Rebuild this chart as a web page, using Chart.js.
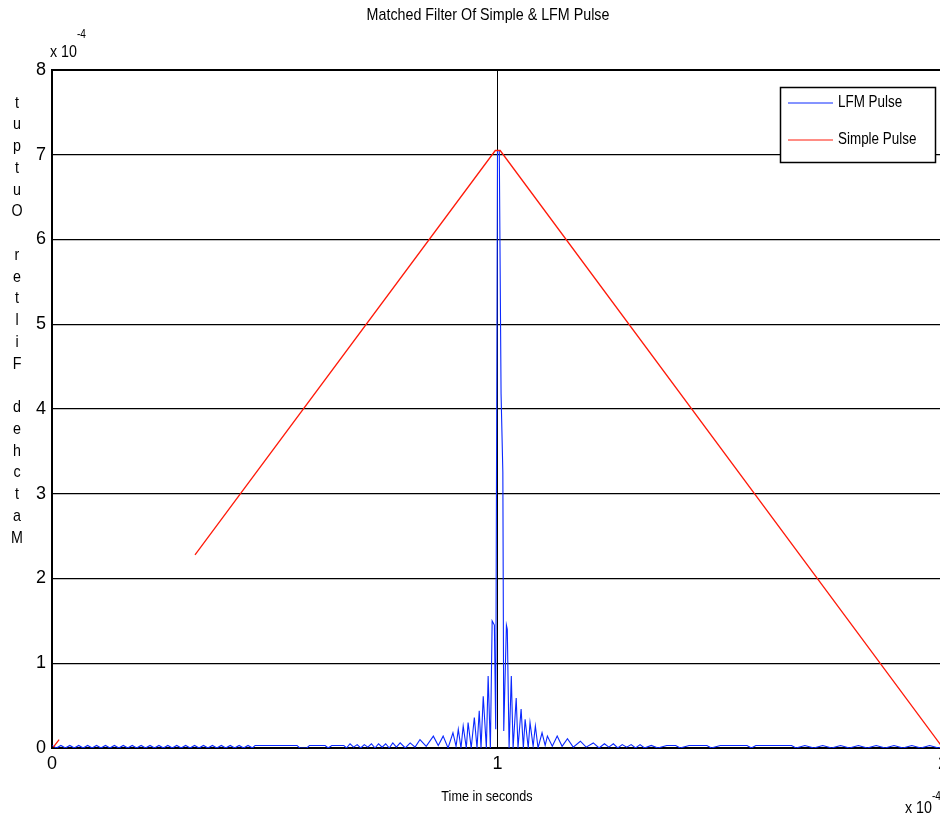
<!DOCTYPE html>
<html><head><meta charset="utf-8">
<script src="https://cdn.jsdelivr.net/npm/chart.js@4.4.1/dist/chart.umd.min.js"></script>
<style>
html,body{margin:0;padding:0;background:#fff;overflow:hidden;}
#wrap{width:940px;height:818px;overflow:hidden;position:relative;background:#fff;}
canvas{display:block;}
</style></head><body>
<div id="wrap"><canvas id="c" width="948" height="818"></canvas></div>
<script>
const chartTitle = "Matched Filter Of Simple & LFM Pulse";
const xAxisTitle = "Time in seconds";
const yAxisTitle = "Matched Filter Output";
const axisMultiplier = "x 10";
const axisExponent = "-4";
const seriesNames = ["LFM Pulse", "Simple Pulse"];
const seriesColors = ["#0a28ff", "#ff1a0a"];
const xTicks = [0, 1, 2];
const yTicks = [0, 1, 2, 3, 4, 5, 6, 7, 8];

const simpleTime  = [0.003, 0.016, 0.02, 0.321, 0.995, 1.006, 2.0];
const simpleValue = [0.01, 0.10, null, 2.28, 7.05, 7.05, 0.0];

const lfmTime = [
  0.00,0.01,0.02,0.03,0.04,0.05,0.06,0.07,0.08,0.09,0.10,0.11,0.12,0.13,0.14,0.15,0.16,0.17,0.18,0.19,0.20,0.21,0.22,
  0.23,0.24,0.25,0.26,0.27,0.28,0.29,0.30,0.31,0.32,0.33,0.34,0.35,0.36,0.37,0.38,0.39,0.40,0.41,0.42,0.43,0.44,
  0.450,0.456,0.550,0.556,0.572,0.578,0.613,0.620,0.628,0.655,0.661,0.669,0.677,0.685,0.693,0.701,0.709,0.717,0.725,
  0.733,0.741,0.749,0.757,0.765,0.773,0.7815,0.793,0.804,0.815,0.826,0.840,0.856,0.867,0.878,0.889,0.900,0.907,0.912,
  0.918,0.923,0.930,0.934,0.941,0.948,0.954,0.959,0.963,0.968,0.975,0.979,0.984,0.988,0.993,0.996,1.000,1.004,1.008,
  1.012,1.014,1.020,1.022,1.026,1.031,1.035,1.042,1.046,1.053,1.058,1.062,1.069,1.073,1.080,1.085,1.091,1.100,1.107,
  1.112,1.123,1.134,1.145,1.157,1.170,1.186,1.199,1.215,1.228,1.240,1.250,1.260,1.270,1.280,1.290,1.300,1.310,1.320,
  1.330,1.345,1.360,1.380,1.400,1.410,1.430,1.470,1.480,1.500,1.560,1.570,1.580,1.660,1.670,1.690,1.710,1.730,1.750,
  1.770,1.790,1.810,1.830,1.850,1.870,1.890,1.910,1.930,1.950,1.970,1.990,2.000
];
const lfmValue = [
  0.03,0,0.03,0,0.03,0,0.03,0,0.03,0,0.03,0,0.03,0,0.03,0,0.03,0,0.03,0,0.03,0,0.03,
  0,0.03,0,0.03,0,0.03,0,0.03,0,0.03,0,0.03,0,0.03,0,0.03,0,0.03,0,0.03,0,0.03,
  0.00,0.03,0.03,0.00,0.00,0.03,0.03,0.00,0.03,0.03,0.00,0.05,0.01,0.04,0.00,0.04,0.01,0.05,0.00,
  0.05,0.01,0.05,0.00,0.06,0.01,0.06,0.00,0.06,0.01,0.10,0.02,0.14,0.03,0.14,0.00,0.18,0.02,0.22,
  0.00,0.26,0.00,0.30,0.00,0.36,0.00,0.44,0.00,0.61,0.00,0.85,0.00,1.50,1.45,0.22,7.05,7.05,4.18,
  3.25,0.20,1.45,1.40,0.00,0.85,0.00,0.59,0.00,0.46,0.00,0.34,0.00,0.30,0.02,0.26,0.00,0.18,0.03,
  0.14,0.02,0.14,0.02,0.11,0.01,0.08,0.01,0.06,0.00,0.05,0.01,0.05,0.00,0.04,0.01,0.04,0.00,0.04,
  0.00,0.03,0.00,0.03,0.03,0.00,0.03,0.03,0.00,0.03,0.03,0.00,0.03,0.03,0.00,0.03,0.00,0.03,0.00,
  0.03,0.00,0.03,0.00,0.03,0.00,0.03,0.00,0.03,0.00,0.03,0.00,0.02
];

const FF = "'Liberation Sans Narrow','Arial Narrow','Liberation Sans',Arial,sans-serif";
const NARROW = 0.84;
const toPts = (t, v) => t.map((x, i) => ({x: x, y: v[i]}));

function narrowText(ctx, text, x, y, size, align) {
  ctx.save();
  ctx.font = size + 'px ' + FF;
  ctx.textBaseline = 'middle';
  ctx.textAlign = align;
  ctx.translate(x, y);
  ctx.scale(NARROW, 1);
  ctx.fillText(text, 0, 0);
  ctx.restore();
}

const matlabText = {
  id: 'matlabText',
  afterDraw(chart) {
    const ctx = chart.ctx;
    ctx.save();
    ctx.fillStyle = '#000';
    narrowText(ctx, chartTitle, 488, 15, 17, 'center');
    narrowText(ctx, xAxisTitle, 487, 797, 15, 'center');
    const letters = yAxisTitle.split('').reverse();
    letters.forEach((ch, i) => { if (ch !== ' ') narrowText(ctx, ch, 17, 103 + i * 21.75, 17, 'center'); });
    narrowText(ctx, axisMultiplier, 50, 52, 17, 'left');
    narrowText(ctx, axisMultiplier, 905, 808, 17, 'left');
    narrowText(ctx, axisExponent, 77, 35, 12, 'left');
    narrowText(ctx, axisExponent, 932, 797, 12, 'left');
    // legend box
    const bx = 780.5, by = 87.5, bw = 155, bh = 75;
    ctx.fillStyle = '#fff';
    ctx.fillRect(bx, by, bw, bh);
    ctx.strokeStyle = '#000';
    ctx.lineWidth = 1.5;
    ctx.strokeRect(bx, by, bw, bh);
    const rows = [103, 140];
    chart.data.datasets.forEach((ds, i) => {
      ctx.strokeStyle = ds.borderColor;
      ctx.lineWidth = 1;
      ctx.beginPath();
      ctx.moveTo(788, rows[i]);
      ctx.lineTo(833, rows[i]);
      ctx.stroke();
      ctx.fillStyle = '#000';
      narrowText(ctx, ds.label, 838, rows[i], 16, 'left');
    });
    ctx.restore();
  }
};

new Chart(document.getElementById('c'), {
  type: 'line',
  data: {
    datasets: [
      { label: seriesNames[0], data: toPts(lfmTime, lfmValue), borderColor: seriesColors[0],
        borderWidth: 1.1, pointRadius: 0, tension: 0, fill: false, order: 1 },
      { label: seriesNames[1], data: toPts(simpleTime, simpleValue), borderColor: seriesColors[1],
        borderWidth: 1.3, pointRadius: 0, tension: 0, fill: false, spanGaps: false, order: 0 }
    ]
  },
  options: {
    responsive: false,
    animation: false,
    devicePixelRatio: 1,
    layout: { padding: { top: 70, left: 0, right: 5, bottom: 0 } },
    plugins: { legend: { display: false }, title: { display: false }, tooltip: { enabled: false } },
    scales: {
      x: {
        type: 'linear', min: 0, max: 2,
        afterBuildTicks: s => { s.ticks = xTicks.map(v => ({ value: v })); },
        afterFit: s => { s.height = 70; s.paddingLeft = 0; s.paddingRight = 0; },
        ticks: { color: '#000', padding: 5, font: { family: FF, size: 18 }, maxRotation: 0, autoSkip: false,
                 callback: v => String(v) },
        grid: { drawTicks: false, color: c => (c.tick && c.tick.value === 1) ? '#000' : 'rgba(0,0,0,0)', lineWidth: 1 },
        border: { display: true, color: '#000', width: 2 }
      },
      y: {
        type: 'linear', min: 0, max: 8,
        afterBuildTicks: s => { s.ticks = yTicks.map(v => ({ value: v })); },
        afterFit: s => { s.width = 52; s.paddingTop = 0; s.paddingBottom = 0; },
        ticks: { color: '#000', padding: 6, font: { family: FF, size: 18 }, callback: v => String(v) },
        grid: { drawTicks: false, color: '#000', lineWidth: c => (c.tick && c.tick.value === 8) ? 2 : 1.2 },
        border: { display: true, color: '#000', width: 2 }
      }
    }
  },
  plugins: [matlabText]
});
</script>
</body></html>
